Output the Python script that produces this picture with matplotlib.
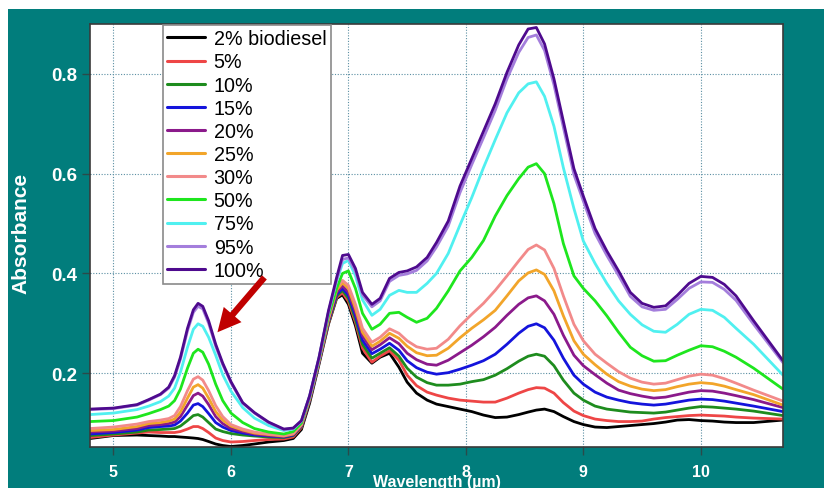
import matplotlib
matplotlib.use("Agg")
import matplotlib.pyplot as plt
from matplotlib.patches import Rectangle

# wavelength grid (µm)
wavelength = [4.8, 5.0, 5.2, 5.3, 5.4, 5.47, 5.52, 5.57, 5.63, 5.68,
              5.72, 5.76, 5.81, 5.87, 5.93, 6.0, 6.1, 6.2, 6.32, 6.45,
              6.53, 6.6, 6.67, 6.75, 6.83, 6.9, 6.95, 7.0, 7.06, 7.12,
              7.2, 7.27, 7.35, 7.43, 7.5, 7.58, 7.67, 7.75, 7.85, 7.95,
              8.05, 8.15, 8.25, 8.35, 8.45, 8.53, 8.6, 8.67, 8.75, 8.83,
              8.92, 9.0, 9.1, 9.2, 9.3, 9.4, 9.5, 9.6, 9.7, 9.8,
              9.9, 10.0, 10.1, 10.2, 10.3, 10.45, 10.7]

labels = ["2% biodiesel", "5%", "10%", "15%", "20%", "25%", "30%", "50%", "75%", "95%", "100%"]
colors = ["#000000", "#EE4646", "#1E8C1E", "#1414DC", "#8B1A8B", "#F2A52A", "#F28A8A",
          "#1EE61E", "#50F0F0", "#A47EDC", "#4E0A8E"]

b2 = [.069, .075, .076, .075, .074, .073, .073, .072, .071, .070,
      .069, .067, .063, .058, .055, .053, .055, .058, .062, .065,
      .069, .087, .140, .218, .298, .350, .357, .338, .295, .240,
      .220, .232, .240, .212, .182, .160, .146, .138, .133, .128,
      .123, .116, .111, .112, .117, .122, .126, .128, .123, .113,
      .103, .097, .092, .091, .093, .095, .097, .099, .102, .106,
      .107, .105, .104, .102, .101, .101, .106]
b5 = [.071, .076, .080, .082, .081, .081, .081, .083, .088, .093,
      .093, .089, .081, .070, .065, .062, .063, .065, .067, .068,
      .072, .091, .145, .221, .300, .352, .361, .344, .302, .250,
      .222, .234, .245, .226, .196, .175, .162, .156, .150, .146,
      .144, .142, .142, .150, .160, .167, .171, .170, .160, .141,
      .124, .115, .108, .105, .103, .103, .104, .108, .111, .113,
      .115, .116, .115, .114, .112, .110, .108]
b10 = [.075, .078, .082, .086, .087, .088, .089, .094, .105, .115,
       .117, .112, .101, .088, .083, .079, .076, .074, .072, .071,
       .075, .093, .146, .222, .302, .355, .366, .350, .308, .258,
       .230, .240, .251, .234, .210, .192, .181, .176, .176, .178,
       .183, .187, .196, .209, .224, .234, .238, .234, .215, .186,
       .160, .146, .134, .128, .125, .122, .121, .120, .122, .126,
       .130, .133, .132, .130, .128, .124, .115]
b15 = [.078, .081, .086, .091, .093, .094, .096, .104, .120, .136,
       .139, .133, .119, .101, .092, .085, .080, .076, .074, .072,
       .076, .094, .147, .223, .304, .358, .370, .356, .315, .266,
       .239, .248, .260, .246, .225, .211, .202, .198, .201, .208,
       .216, .225, .238, .258, .280, .294, .299, .291, .266, .230,
       .196, .178, .162, .152, .146, .141, .138, .136, .138, .142,
       .146, .148, .147, .144, .140, .134, .123]
b20 = [.082, .084, .089, .095, .097, .099, .102, .113, .136, .155,
       .160, .154, .137, .113, .099, .089, .083, .078, .075, .073,
       .077, .095, .148, .224, .306, .362, .375, .362, .322, .275,
       .247, .257, .271, .259, .240, .227, .218, .216, .226, .241,
       .256, .273, .292, .316, .338, .351, .355, .345, .318, .276,
       .236, .215, .197, .180, .166, .159, .154, .150, .152, .157,
       .162, .165, .164, .160, .155, .147, .131]
b25 = [.085, .087, .093, .099, .101, .104, .108, .122, .150, .172,
       .177, .170, .150, .123, .106, .094, .086, .080, .077, .074,
       .078, .096, .149, .225, .308, .367, .381, .370, .330, .282,
       .254, .264, .280, .270, .254, .241, .235, .236, .250, .271,
       .290, .307, .326, .355, .385, .401, .407, .398, .365, .315,
       .265, .238, .217, .198, .183, .174, .168, .165, .167, .173,
       .178, .181, .179, .174, .167, .157, .136]
b30 = [.089, .092, .098, .103, .106, .109, .115, .133, .165, .188,
       .193, .186, .165, .135, .113, .097, .088, .082, .078, .075,
       .079, .097, .150, .226, .310, .372, .386, .376, .338, .290,
       .262, .272, .289, .280, .265, .253, .248, .250, .268, .295,
       .318, .340, .366, .395, .425, .448, .457, .447, .410, .355,
       .298, .265, .238, .220, .203, .190, .182, .178, .180, .187,
       .194, .198, .196, .189, .180, .166, .144]
b50 = [.103, .105, .112, .119, .127, .134, .145, .168, .210, .240,
       .248, .242, .218, .178, .145, .120, .101, .089, .082, .078,
       .083, .100, .152, .228, .315, .370, .400, .405, .370, .320,
       .288, .298, .320, .322, .312, .302, .310, .330, .365, .405,
       .432, .466, .515, .556, .590, .613, .620, .600, .540, .460,
       .395, .370, .345, .315, .282, .252, .235, .224, .225, .236,
       .246, .255, .253, .244, .232, .210, .168]
b75 = [.117, .120, .127, .134, .143, .154, .170, .202, .252, .288,
       .299, .294, .272, .236, .197, .164, .131, .110, .095, .085,
       .088, .104, .154, .231, .322, .385, .420, .426, .395, .347,
       .316, .328, .356, .366, .362, .362, .380, .400, .440, .497,
       .552, .612, .668, .722, .762, .780, .784, .755, .695, .612,
       .530, .465, .420, .380, .345, .318, .297, .284, .282, .298,
       .318, .328, .326, .312, .290, .258, .196]
b95 = [.127, .129, .136, .146, .157, .170, .192, .228, .285, .322,
       .334, .329, .300, .254, .217, .181, .140, .120, .101, .087,
       .089, .104, .154, .231, .322, .387, .428, .431, .404, .357,
       .333, .345, .384, .396, .399, .406, .425, .453, .495, .562,
       .618, .672, .727, .790, .843, .873, .878, .847, .778, .693,
       .598, .545, .480, .436, .396, .354, .333, .326, .328, .348,
       .370, .383, .382, .368, .346, .298, .221]
b100 = [.128, .130, .137, .147, .158, .172, .195, .232, .290, .327,
        .340, .334, .305, .258, .220, .183, .141, .121, .102, .088,
        .090, .105, .155, .232, .325, .392, .436, .438, .410, .362,
        .338, .350, .390, .402, .405, .413, .432, .462, .505, .575,
        .630, .685, .740, .803, .858, .890, .893, .860, .790, .705,
        .610, .555, .490, .445, .405, .362, .340, .332, .335, .356,
        .380, .394, .392, .378, .355, .305, .225]

series = [b2, b5, b10, b15, b20, b25, b30, b50, b75, b95, b100]

teal = "#017D7C"
font = "Liberation Sans"

fig = plt.figure(figsize=(8.24, 4.89), dpi=100, facecolor="white")
# teal slide background behind the plot
fig.patches.append(Rectangle((8 / 824, 0), 1, 1 - 10 / 489, transform=fig.transFigure,
                             facecolor=teal, edgecolor="none", zorder=-10))

ax = fig.add_axes([90 / 824, 1 - 448 / 489, 693 / 824, 423 / 489])
ax.set_facecolor("white")
ax.set_zorder(1)

for vals, lab, col in zip(series, labels, colors):
    ax.plot(wavelength, vals, color=col, lw=2.0, label=lab,
            solid_joinstyle="round", solid_capstyle="round")

ax.set_xlim(4.8, 10.7)
ax.set_ylim(0.052, 0.9)
ax.set_xticks([5, 6, 7, 8, 9, 10])
ax.set_yticks([0.2, 0.4, 0.6, 0.8])
ax.set_yticklabels(["0.2", "0.4", "0.6", "0.8"])
ax.grid(True, linestyle=(0, (1, 1.5)), color="#5B8FA3", lw=0.8)
ax.set_axisbelow(True)

for sp in ax.spines.values():
    sp.set_color("#3A3A3A")
    sp.set_linewidth(1.2)

ax.tick_params(axis="both", direction="out", length=6, width=1, color="#2A4A4A")
ax.tick_params(axis="y", pad=3)
ax.tick_params(axis="x", pad=6)
for t in ax.get_yticklabels():
    t.set_fontfamily(font)
    t.set_fontweight("bold")
    t.set_fontsize(13.5)
    t.set_color("white")
for t in ax.get_xticklabels():
    t.set_fontfamily(font)
    t.set_fontweight("bold")
    t.set_fontsize(11.5)
    t.set_color("white")

fig.text(21 / 824, 1 - 233 / 489, "Absorbance", rotation=90, ha="center", va="center",
         color="white", fontweight="bold", fontsize=15, fontfamily=font)
fig.text(437 / 824, 2 / 489, "Wavelength (µm)", ha="center", va="baseline",
         color="white", fontweight="bold", fontsize=11.5, fontfamily=font)

leg = ax.legend(loc="upper left", bbox_to_anchor=(163 / 824, 1 - 26 / 489),
                bbox_transform=fig.transFigure, borderaxespad=0, fancybox=False,
                framealpha=1, edgecolor="#8A8A8A", prop={"family": font, "size": 14.2},
                handlelength=1.9, handletextpad=0.45, labelspacing=0.21, borderpad=0.22)
leg.get_frame().set_linewidth(1.2)
for line in leg.get_lines():
    line.set_linewidth(2.2)

# red arrow pointing to the 5.7 µm carbonyl peak, drawn over the legend edge
arrow = ax.annotate("", xy=(5.885, 0.282), xytext=(6.285, 0.392),
                    arrowprops=dict(arrowstyle="simple,head_length=1.4,head_width=1.4,tail_width=0.38",
                                    mutation_scale=12, facecolor="#C00000", edgecolor="none",
                                    shrinkA=0, shrinkB=0))
arrow.set_zorder(10)

fig.savefig("out.png", dpi=100, facecolor=fig.get_facecolor())
